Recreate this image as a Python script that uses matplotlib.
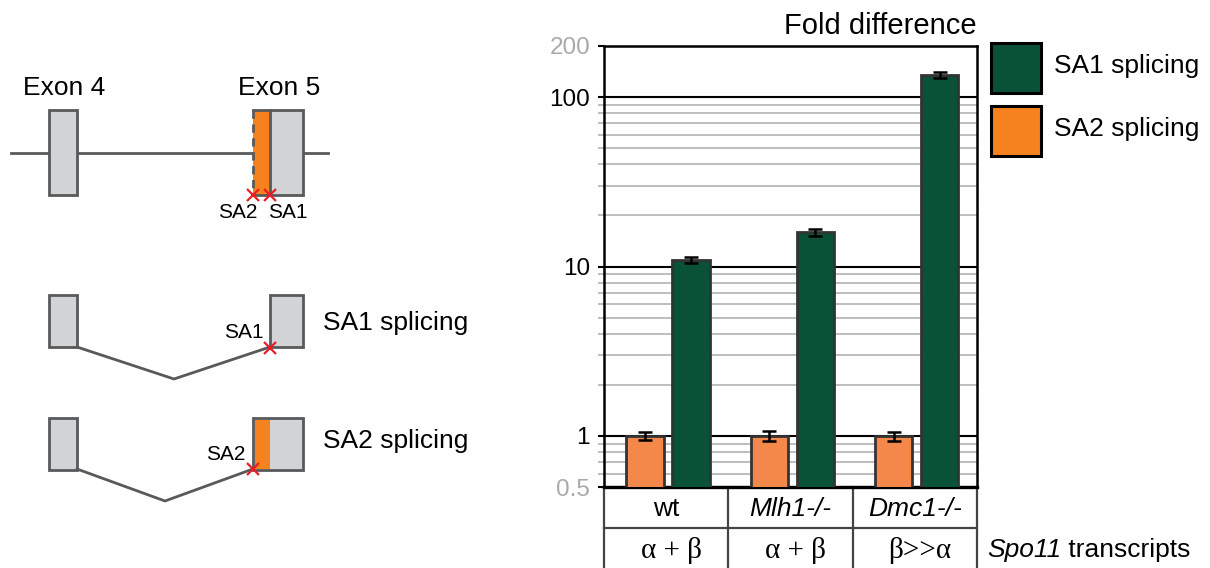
import matplotlib
matplotlib.use('Agg')
import matplotlib.pyplot as plt
from matplotlib.patches import Rectangle
from matplotlib.ticker import NullFormatter

plt.rcParams['font.family'] = ['Liberation Sans', 'DejaVu Sans']

# Дані графіка
genotypes = ['wt', 'Mlh1-/-', 'Dmc1-/-']
transcripts = ['α + β', 'α + β', 'β>>α']
series = ['SA1 splicing', 'SA2 splicing']
sa1_fold = [10.9, 15.9, 135.0]
sa1_err = [0.45, 0.75, 5.5]
sa2_fold = [1.0, 1.0, 1.0]
sa2_err = [0.055, 0.07, 0.06]
y_ticks = [0.5, 1, 10, 100, 200]
y_ticklabels = ['0.5', '1', '10', '100', '200']
y_minor = [0.6, 0.7, 0.8, 0.9, 2, 3, 4, 5, 6, 7, 8, 9,
           20, 30, 40, 50, 60, 70, 80, 90]

GREEN = '#0a5237'
ORANGE_BAR = '#f4874a'
ORANGE = '#f5821f'
GREY_FILL = '#d1d3d4'
GREY_LINE = '#58595b'
RED = '#ed1c24'

W, H = 1210, 568
fig = plt.figure(figsize=(W / 100, H / 100), dpi=100)


def px(x0, y0, x1, y1):
    return [x0 / W, 1 - y1 / H, (x1 - x0) / W, (y1 - y0) / H]


# Полотно в пікселях для схеми та легенди
ov = fig.add_axes([0, 0, 1, 1])
ov.set_xlim(0, W)
ov.set_ylim(H, 0)
ov.axis('off')


def exon(x0, x1, y0, y1, color=GREY_FILL, ls='-'):
    ov.add_patch(Rectangle((x0, y0), x1 - x0, y1 - y0, facecolor=color,
                           edgecolor=GREY_LINE, linewidth=2, linestyle=ls))


def mark(x, y):
    ov.plot([x], [y], marker='x', color=RED, ms=8, mew=1.6, zorder=5)


# Верхня схема: ген
ov.plot([11, 328], [153, 153], color=GREY_LINE, lw=2, zorder=1)
exon(49, 77, 110, 195)
ov.add_patch(Rectangle((253, 110), 17, 85, facecolor=ORANGE, edgecolor='none', zorder=2))
ov.plot([253, 253], [110, 195], color=GREY_LINE, lw=2, ls=(0, (3, 2)), zorder=3)
ov.plot([253, 270], [110, 110], color=GREY_LINE, lw=2, zorder=3)
ov.plot([253, 270], [195, 195], color=GREY_LINE, lw=2, zorder=3)
ov.add_patch(Rectangle((270, 110), 33, 85, facecolor=GREY_FILL, edgecolor=GREY_LINE, lw=2, zorder=3))
mark(253, 195)
mark(270, 195)
ov.text(64, 88, 'Exon 4', fontsize=19, ha='center', va='center')
ov.text(279, 88, 'Exon 5', fontsize=19, ha='center', va='center')
ov.text(238, 213, 'SA2', fontsize=15, ha='center', va='center')
ov.text(288, 213, 'SA1', fontsize=15, ha='center', va='center')

# SA1 сплайсинг
exon(49, 77, 295, 347)
exon(270, 303, 295, 347)
ov.plot([77, 174, 270], [347, 379, 347], color=GREY_LINE, lw=2)
mark(270, 348)
ov.text(244, 333, 'SA1', fontsize=15, ha='center', va='center')
ov.text(323, 323, series[0], fontsize=19, ha='left', va='center')

# SA2 сплайсинг
exon(49, 77, 418, 470)
ov.add_patch(Rectangle((253, 418), 50, 52, facecolor=GREY_FILL, edgecolor=GREY_LINE, lw=2, zorder=2))
ov.add_patch(Rectangle((254.5, 419.5), 15, 49, facecolor=ORANGE, edgecolor='none', zorder=3))
ov.plot([77, 165, 253], [469, 501, 469], color=GREY_LINE, lw=2)
mark(253, 469)
ov.text(226, 454, 'SA2', fontsize=15, ha='center', va='center')
ov.text(323, 441, series[1], fontsize=19, ha='left', va='center')

# Легенда
for (y0, col), name in zip([(43, GREEN), (106, ORANGE)], series):
    ov.add_patch(Rectangle((991, y0), 50, 50, facecolor=col, edgecolor='black', lw=2.2))
    ov.text(1054, y0 + 23, name, fontsize=19, ha='left', va='center')

# Стовпчикова діаграма
ax = fig.add_axes(px(604, 46, 977, 487))
ax.set_yscale('log')
x = list(range(len(genotypes)))
ekw = dict(elinewidth=1.8, capthick=1.8, ecolor='black')
ax.bar([i - 0.17 for i in x], sa2_fold, 0.3, yerr=sa2_err, color=ORANGE_BAR,
       edgecolor='#333333', linewidth=2, capsize=5, error_kw=ekw, zorder=3)
ax.bar([i + 0.2 for i in x], sa1_fold, 0.3, yerr=sa1_err, color=GREEN,
       edgecolor='#333333', linewidth=2, capsize=5, error_kw=ekw, zorder=3)
ax.set_xlim(-0.5, 2.5)
ax.set_ylim(0.5, 200)
ax.set_yticks(y_ticks, y_ticklabels)
ax.set_yticks(y_minor, minor=True)
ax.yaxis.set_minor_formatter(NullFormatter())
ax.grid(which='major', axis='y', color='black', lw=1.5, zorder=1)
ax.grid(which='minor', axis='y', color='#bcbec0', lw=1.4, zorder=0)
ax.set_axisbelow(True)
ax.tick_params(axis='y', which='major', length=4.5, width=1.5, pad=5.5,
               labelsize=17.5, color='black')
ax.tick_params(axis='y', which='minor', length=4.5, width=1.4, color='#bcbec0')
ax.tick_params(axis='x', bottom=False, labelbottom=False)
for lab in ax.get_yticklabels():
    if lab.get_text() in ('0.5', '200'):
        lab.set_color('#a7a9ac')
for s in ax.spines.values():
    s.set_linewidth(1.8)
    s.set_color('black')
ax.spines['bottom'].set_linewidth(2.4)

ax.text(1.0, 1.027, 'Fold difference', transform=ax.transAxes, ha='right',
        va='baseline', fontsize=21)

# Таблиця під віссю
tr = ax.get_xaxis_transform()
for xv in [-0.5, 0.5, 1.5, 2.5]:
    ax.plot([xv, xv], [0, -0.19], transform=tr, color='#444444', lw=1.6, clip_on=False)
ax.plot([-0.5, 2.5], [-0.093, -0.093], transform=tr, color='#444444', lw=1.6, clip_on=False)
for i, (g, t) in enumerate(zip(genotypes, transcripts)):
    style = 'normal' if g == 'wt' else 'italic'
    ax.text(i, -0.05, g, transform=tr, ha='center', va='center', fontsize=19, style=style)
    ax.text(i + 0.04, -0.143, t, transform=tr, ha='center', va='center', fontsize=21,
            family=['Liberation Serif', 'DejaVu Serif'])
spo = ax.text(1.027, -0.143, 'Spo11', transform=ax.transAxes, ha='left',
              va='center', fontsize=19, style='italic')
ax.annotate(' transcripts', xy=(1, 0), xycoords=spo, ha='left', va='bottom',
            fontsize=19)

fig.savefig('out.png', dpi=100)
